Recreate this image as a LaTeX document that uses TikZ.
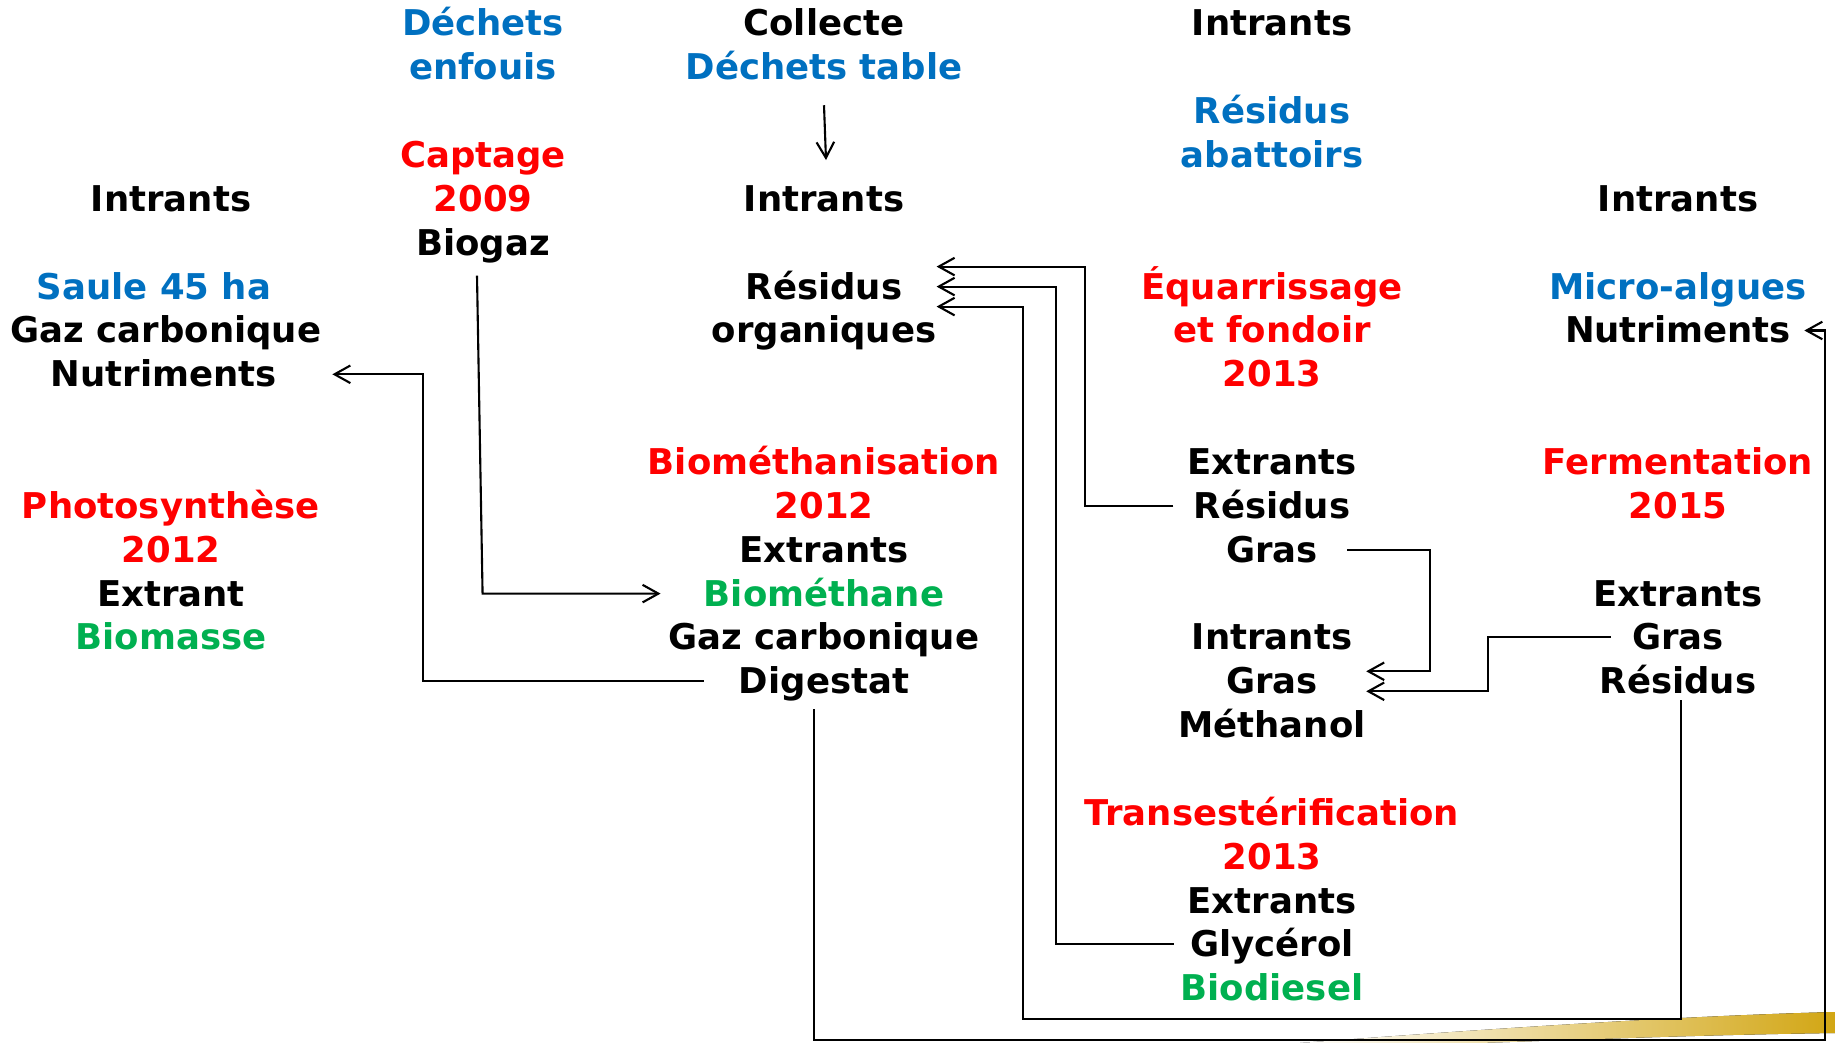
\documentclass[tikz,border=0pt]{standalone}
\usepackage{fontspec}
\setmainfont{DejaVu Sans}
\usetikzlibrary{arrows.meta,calc}
\definecolor{bleuD}{HTML}{0070C0}
\definecolor{rougeD}{HTML}{FF0000}
\definecolor{vertD}{HTML}{00B050}
\definecolor{orD}{HTML}{D2A614}
\tikzset{
    mot/.style={
        font=\fontsize{20.2}{24}\selectfont\bfseries,
        inner sep=0pt,
        text height=0.5cm,
        text depth=0pt,
        anchor=base
    },
    bleu/.style={mot,text=bleuD},
    rouge/.style={mot,text=rougeD},
    vert/.style={mot,text=vertD},
    fleche/.style={
        -{Straight Barb[length=9pt,width=10pt]},
        line width=1.2pt
    }
}

\begin{document}
\begin{tikzpicture}[x=0.02cm,y=-0.02cm]
\useasboundingbox (0,0) rectangle (1835,1043);
% bandeau en bas a droite
\fill[left color=white,middle color=orD,right color=orD]
  (1300,1043) .. controls (1500,1028) and (1680,1016) .. (1835,1012)
  -- (1835,1033) .. controls (1700,1035) and (1600,1039) .. (1480,1043) -- cycle;

% colonne photosynthese
\node[mot] (intA) at (171,211.4) {Intrants};
\node[bleu] (sauleA) at (154,299.1) {Saule 45 ha};
\node[mot] (gazA) at (166,343) {Gaz carbonique};
\node[mot] (nutrA) at (164,386.8) {Nutriments};
\node[rouge] (photoA) at (171,518.4) {Photosynthèse};
\node[rouge] (anA) at (171,562.2) {2012};
\node[mot] (extA) at (171,606.1) {Extrant};
\node[vert] (biomA) at (171,649.9) {Biomasse};

% colonne captage
\node[bleu] (dechB) at (483,36) {Déchets};
\node[bleu] (enfB) at (483,79.9) {enfouis};
\node[rouge] (captB) at (483,167.6) {Captage};
\node[rouge] (anB) at (483,211.4) {2009};
\node[mot] (biogaz) at (483,255.3) {Biogaz};

% colonne biomethanisation
\node[mot] (collC) at (824,36) {Collecte};
\node[bleu] (dtab) at (824,79.9) {Déchets table};
\node[mot] (intC) at (824,211.4) {Intrants};
\node[mot] (resC) at (824,299.1) {Résidus};
\node[mot] (orgC) at (824,343) {organiques};
\node[rouge] (biomethan) at (824,474.5) {Biométhanisation};
\node[rouge] (anC) at (824,518.4) {2012};
\node[mot] (extC) at (824,562.2) {Extrants};
\node[vert] (biometh) at (824,606.1) {Biométhane};
\node[mot] (gazC) at (824,649.9) {Gaz carbonique};
\node[mot] (digestat) at (824,693.8) {Digestat};

% colonne equarrissage et transesterification
\node[mot] (intD) at (1272,36) {Intrants};
\node[bleu] (resAb) at (1272,123.7) {Résidus};
\node[bleu] (abat) at (1272,167.6) {abattoirs};
\node[rouge] (equar) at (1272,299.1) {Équarrissage};
\node[rouge] (fond) at (1272,343) {et fondoir};
\node[rouge] (anD) at (1272,386.8) {2013};
\node[mot] (extD) at (1272,474.5) {Extrants};
\node[mot] (resD) at (1272,518.4) {Résidus};
\node[mot] (grasD) at (1272,562.2) {Gras};
\node[mot] (intT) at (1272,649.9) {Intrants};
\node[mot] (grasI) at (1272,693.8) {Gras};
\node[mot] (methanol) at (1272,737.6) {Méthanol};
\node[rouge] (trans) at (1272,825.3) {Transestérification};
\node[rouge] (anT) at (1272,869.2) {2013};
\node[mot] (extT) at (1272,913) {Extrants};
\node[mot] (glyc) at (1272,956.9) {Glycérol};
\node[vert] (biodiesel) at (1272,1000.7) {Biodiesel};

% colonne fermentation
\node[mot] (intE) at (1678,211.4) {Intrants};
\node[bleu] (micro) at (1678,299.1) {Micro-algues};
\node[mot] (nutrE) at (1678,343) {Nutriments};
\node[rouge] (ferm) at (1678,474.5) {Fermentation};
\node[rouge] (anE) at (1678,518.4) {2015};
\node[mot] (extE) at (1678,606.1) {Extrants};
\node[mot] (grasE) at (1678,649.9) {Gras};
\node[mot] (resE) at (1678,693.8) {Résidus};

% liaisons
\draw[fleche] ($(dtab.south)+(0,25)$) -- ($(intC.north)+(2,-26)$);
\draw[fleche] ($(biogaz.south)+(-6,20)$) -- ($(biometh.west)+(-221,0)$) -- ($(biometh.west)+(-43,0)$);
\draw[fleche] ($(digestat.west)+(-35,0)$) -| ($(nutrA.east)+(146,0)$) -- ($(nutrA.east)+(55,0)$);
\draw[fleche] ($(resD.west)+(-20,0)$) -| ($(resC.east)+(182,-20)$) -- ($(resC.east)+(34,-20)$);
\draw[fleche] ($(glyc.west)+(-16,0)$) -| ($(resC.east)+(153,0)$) -- ($(resC.east)+(34,0)$);
\draw[fleche] ($(resE.south)+(3,6)$) -- ++(0,319) -| ($(resC.east)+(120,20)$) -- ($(resC.east)+(34,20)$);
\draw[fleche] ($(grasD.east)+(29,0)$) -| ($(grasI.east)+(112,-10)$) -- ($(grasI.east)+(48,-10)$);
\draw[fleche] ($(grasE.west)+(-21,0)$) -| ($(grasI.east)+(170,10)$) -- ($(grasI.east)+(48,10)$);
\draw[fleche] ($(digestat.south)+(-10,15)$) -- ++(0,331) -| ($(nutrE.east)+(34,0)$) -- ($(nutrE.east)+(13,0)$);
\end{tikzpicture}
\end{document}
